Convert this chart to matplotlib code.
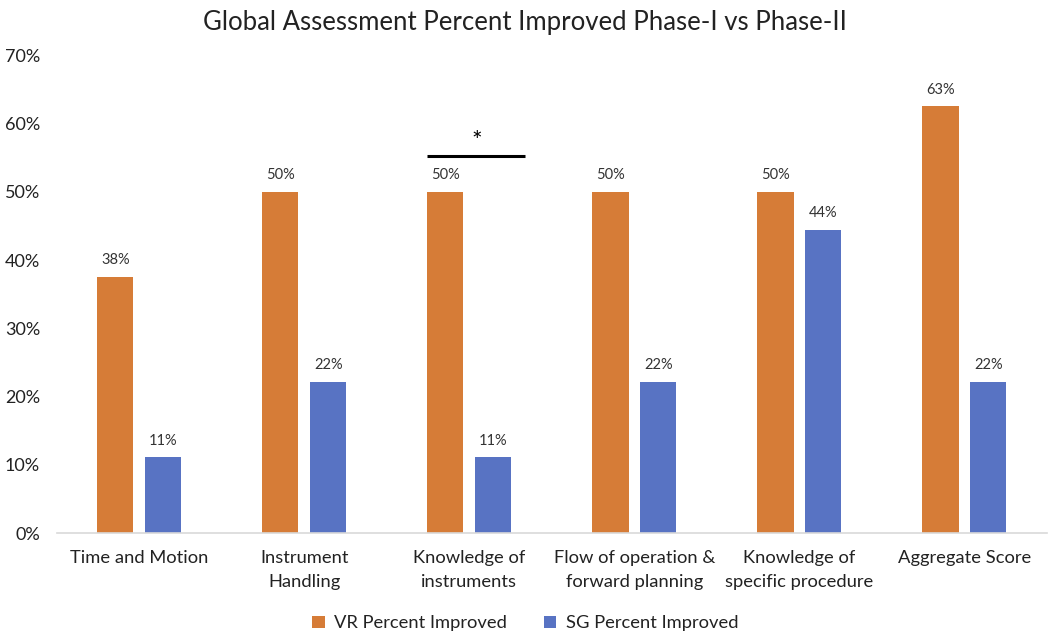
import numpy as np
import matplotlib.pyplot as plt
import math

categories = ["Time and Motion", "Instrument\nHandling", "Knowledge of\ninstruments",
              "Flow of operation &\nforward planning", "Knowledge of\nspecific procedure",
              "Aggregate Score"]
vr = [37.5, 50.0, 50.0, 50.0, 50.0, 62.5]
sg = [11.1, 22.2, 11.1, 22.2, 44.4, 22.2]
yticks = [0, 10, 20, 30, 40, 50, 60, 70]

orange = '#D67C37'
blue = '#5873C3'

plt.rcParams['font.family'] = ['Lato', 'DejaVu Sans']

fig = plt.figure(figsize=(10.5, 6.34), dpi=100)
ax = fig.add_axes([0.054, 0.159, 0.943, 0.754])

x = np.arange(len(categories))
off = 0.145
w = 0.22
b1 = ax.bar(x - off, vr, w, color=orange, label='VR Percent Improved')
b2 = ax.bar(x + off, sg, w, color=blue, label='SG Percent Improved')

def lab(v):
    return "%d%%" % math.floor(v + 0.5)

for bars, vals in ((b1, vr), (b2, sg)):
    for r, v in zip(bars, vals):
        ax.annotate(lab(v), (r.get_x() + r.get_width() / 2, v), xytext=(0, 7),
                    textcoords='offset points', ha='center', va='bottom',
                    fontsize=10.5, color='#333333')

# significance marker over Knowledge of instruments
i = 2
ax.plot([i - off - w / 2, i + 0.34], [55.2, 55.2], color='black', lw=2.2, solid_capstyle='butt')
ax.text(i + 0.045, 55.6, '*', ha='center', va='bottom', fontsize=18, color='black')

ax.set_xlim(-0.5, len(categories) - 0.5)
ax.set_ylim(0, 70)
ax.set_yticks(yticks)
ax.set_yticklabels(["%d%%" % t for t in yticks], fontsize=13, color='#222222')
ax.set_xticks(x)
ax.set_xticklabels(categories, fontsize=13.2, color='#222222', linespacing=1.65)
ax.tick_params(length=0)
ax.tick_params(axis='y', pad=12)
ax.tick_params(axis='x', pad=12)
for s in ['top', 'right', 'left']:
    ax.spines[s].set_visible(False)
ax.spines['bottom'].set_color('#D9D9D9')
ax.spines['bottom'].set_linewidth(1.2)

fig.suptitle("Global Assessment Percent Improved Phase-I vs Phase-II", fontsize=18.5,
             y=0.985, x=0.5, color='#222222')

fig.legend(handles=[b1, b2], loc='lower center', bbox_to_anchor=(0.5, -0.022), ncol=2,
           frameon=False, fontsize=13.2, handlelength=0.7, handleheight=0.7,
           columnspacing=2.0, handletextpad=0.5, labelcolor='#222222')

fig.savefig('out.png', dpi=100)
